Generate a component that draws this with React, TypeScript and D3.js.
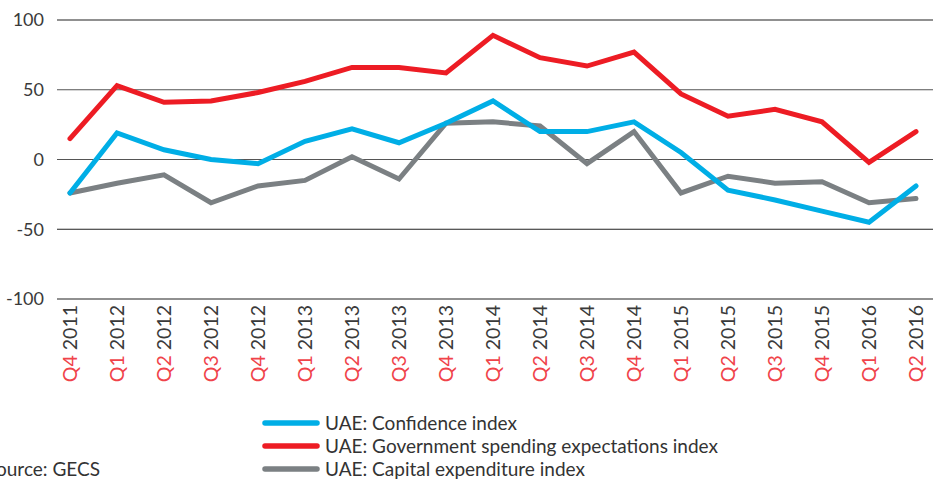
import { useEffect, useRef } from "react";
import * as d3 from "d3";

const quarters = [
  "Q4 2011", "Q1 2012", "Q2 2012", "Q3 2012", "Q4 2012", "Q1 2013", "Q2 2013",
  "Q3 2013", "Q4 2013", "Q1 2014", "Q2 2014", "Q3 2014", "Q4 2014", "Q1 2015",
  "Q2 2015", "Q3 2015", "Q4 2015", "Q1 2016", "Q2 2016",
];

const confidence = [-24, 19, 7, 0, -3, 13, 22, 12, 26, 42, 20, 20, 27, 5, -22, -29, -37, -45, -19];
const govSpending = [15, 53, 41, 42, 48, 56, 66, 66, 62, 89, 73, 67, 77, 47, 31, 36, 27, -2, 20];
const capex = [-24, -17, -11, -31, -19, -15, 2, -14, 26, 27, 24, -3, 20, -24, -12, -17, -16, -31, -28];

const yTicks = [100, 50, 0, -50, -100];

const series = [
  { name: "UAE: Confidence index", values: confidence, color: "#00aee6" },
  { name: "UAE: Government spending expectations index", values: govSpending, color: "#ed1c24" },
  { name: "UAE: Capital expenditure index", values: capex, color: "#7b8083" },
];

export default function App() {
  const ref = useRef<SVGSVGElement>(null);

  useEffect(() => {
    if (!ref.current) return;
    const svg = d3.select(ref.current);
    svg.selectAll("*").remove();

    const left = 57;
    const right = 933;

    const x = d3.scalePoint<string>().domain(quarters).range([70, 916]);
    const y = d3.scaleLinear().domain([-100, 100]).range([299, 20]);

    const font = "'Lato', 'Open Sans', sans-serif";

    // gridlines
    svg
      .append("g")
      .selectAll("line")
      .data(yTicks)
      .enter()
      .append("line")
      .attr("x1", left)
      .attr("x2", right)
      .attr("y1", (d) => y(d))
      .attr("y2", (d) => y(d))
      .attr("stroke", (d) => (d === 50 || d === 0 ? "#555" : "#222"))
      .attr("stroke-width", 1.2);

    // y labels
    svg
      .append("g")
      .selectAll("text")
      .data(yTicks)
      .enter()
      .append("text")
      .attr("x", 44)
      .attr("y", (d) => y(d))
      .attr("dy", "0.35em")
      .attr("text-anchor", "end")
      .attr("font-family", font)
      .attr("font-size", 18)
      .attr("fill", "#3a3a3a")
      .text((d) => d);

    // x labels, rotated
    const xl = svg
      .append("g")
      .selectAll("text")
      .data(quarters)
      .enter()
      .append("text")
      .attr("transform", (d) => `translate(${(x(d) || 0) + 7},305) rotate(-90)`)
      .attr("text-anchor", "end")
      .attr("font-family", font)
      .attr("font-size", 19.5);
    xl.append("tspan").attr("fill", "#f0434a").text((d) => d.split(" ")[0]);
    xl.append("tspan").attr("fill", "#3a3a3a").text((d) => " " + d.split(" ")[1]);

    // lines
    const line = d3
      .line<number>()
      .x((_, i) => x(quarters[i]) || 0)
      .y((d) => y(d));

    [series[2], series[0], series[1]].forEach((s) => {
      svg
        .append("path")
        .datum(s.values)
        .attr("d", line)
        .attr("fill", "none")
        .attr("stroke", s.color)
        .attr("stroke-width", 5)
        .attr("stroke-linejoin", "miter")
        .attr("stroke-linecap", "round");
    });

    // legend
    const legend = svg.append("g").attr("transform", "translate(265,423)");
    series.forEach((s, i) => {
      const g = legend.append("g").attr("transform", `translate(0,${i * 23})`);
      g.append("line")
        .attr("x1", 0)
        .attr("x2", 52)
        .attr("stroke", s.color)
        .attr("stroke-width", 5.5)
        .attr("stroke-linecap", "round");
      g.append("text")
        .attr("x", 60)
        .attr("dy", "0.35em")
        .attr("font-family", font)
        .attr("font-size", 19)
        .attr("fill", "#333")
        .text(s.name);
    });

    svg
      .append("text")
      .attr("x", 100)
      .attr("y", 469)
      .attr("dy", "0.35em")
      .attr("text-anchor", "end")
      .attr("font-family", font)
      .attr("font-size", 19)
      .attr("fill", "#333")
      .text("Source: GECS");
  }, []);

  return (
    <svg
      ref={ref}
      width={941}
      height={479}
      style={{ position: "absolute", left: 0, top: 0, background: "#fff" }}
    />
  );
}
